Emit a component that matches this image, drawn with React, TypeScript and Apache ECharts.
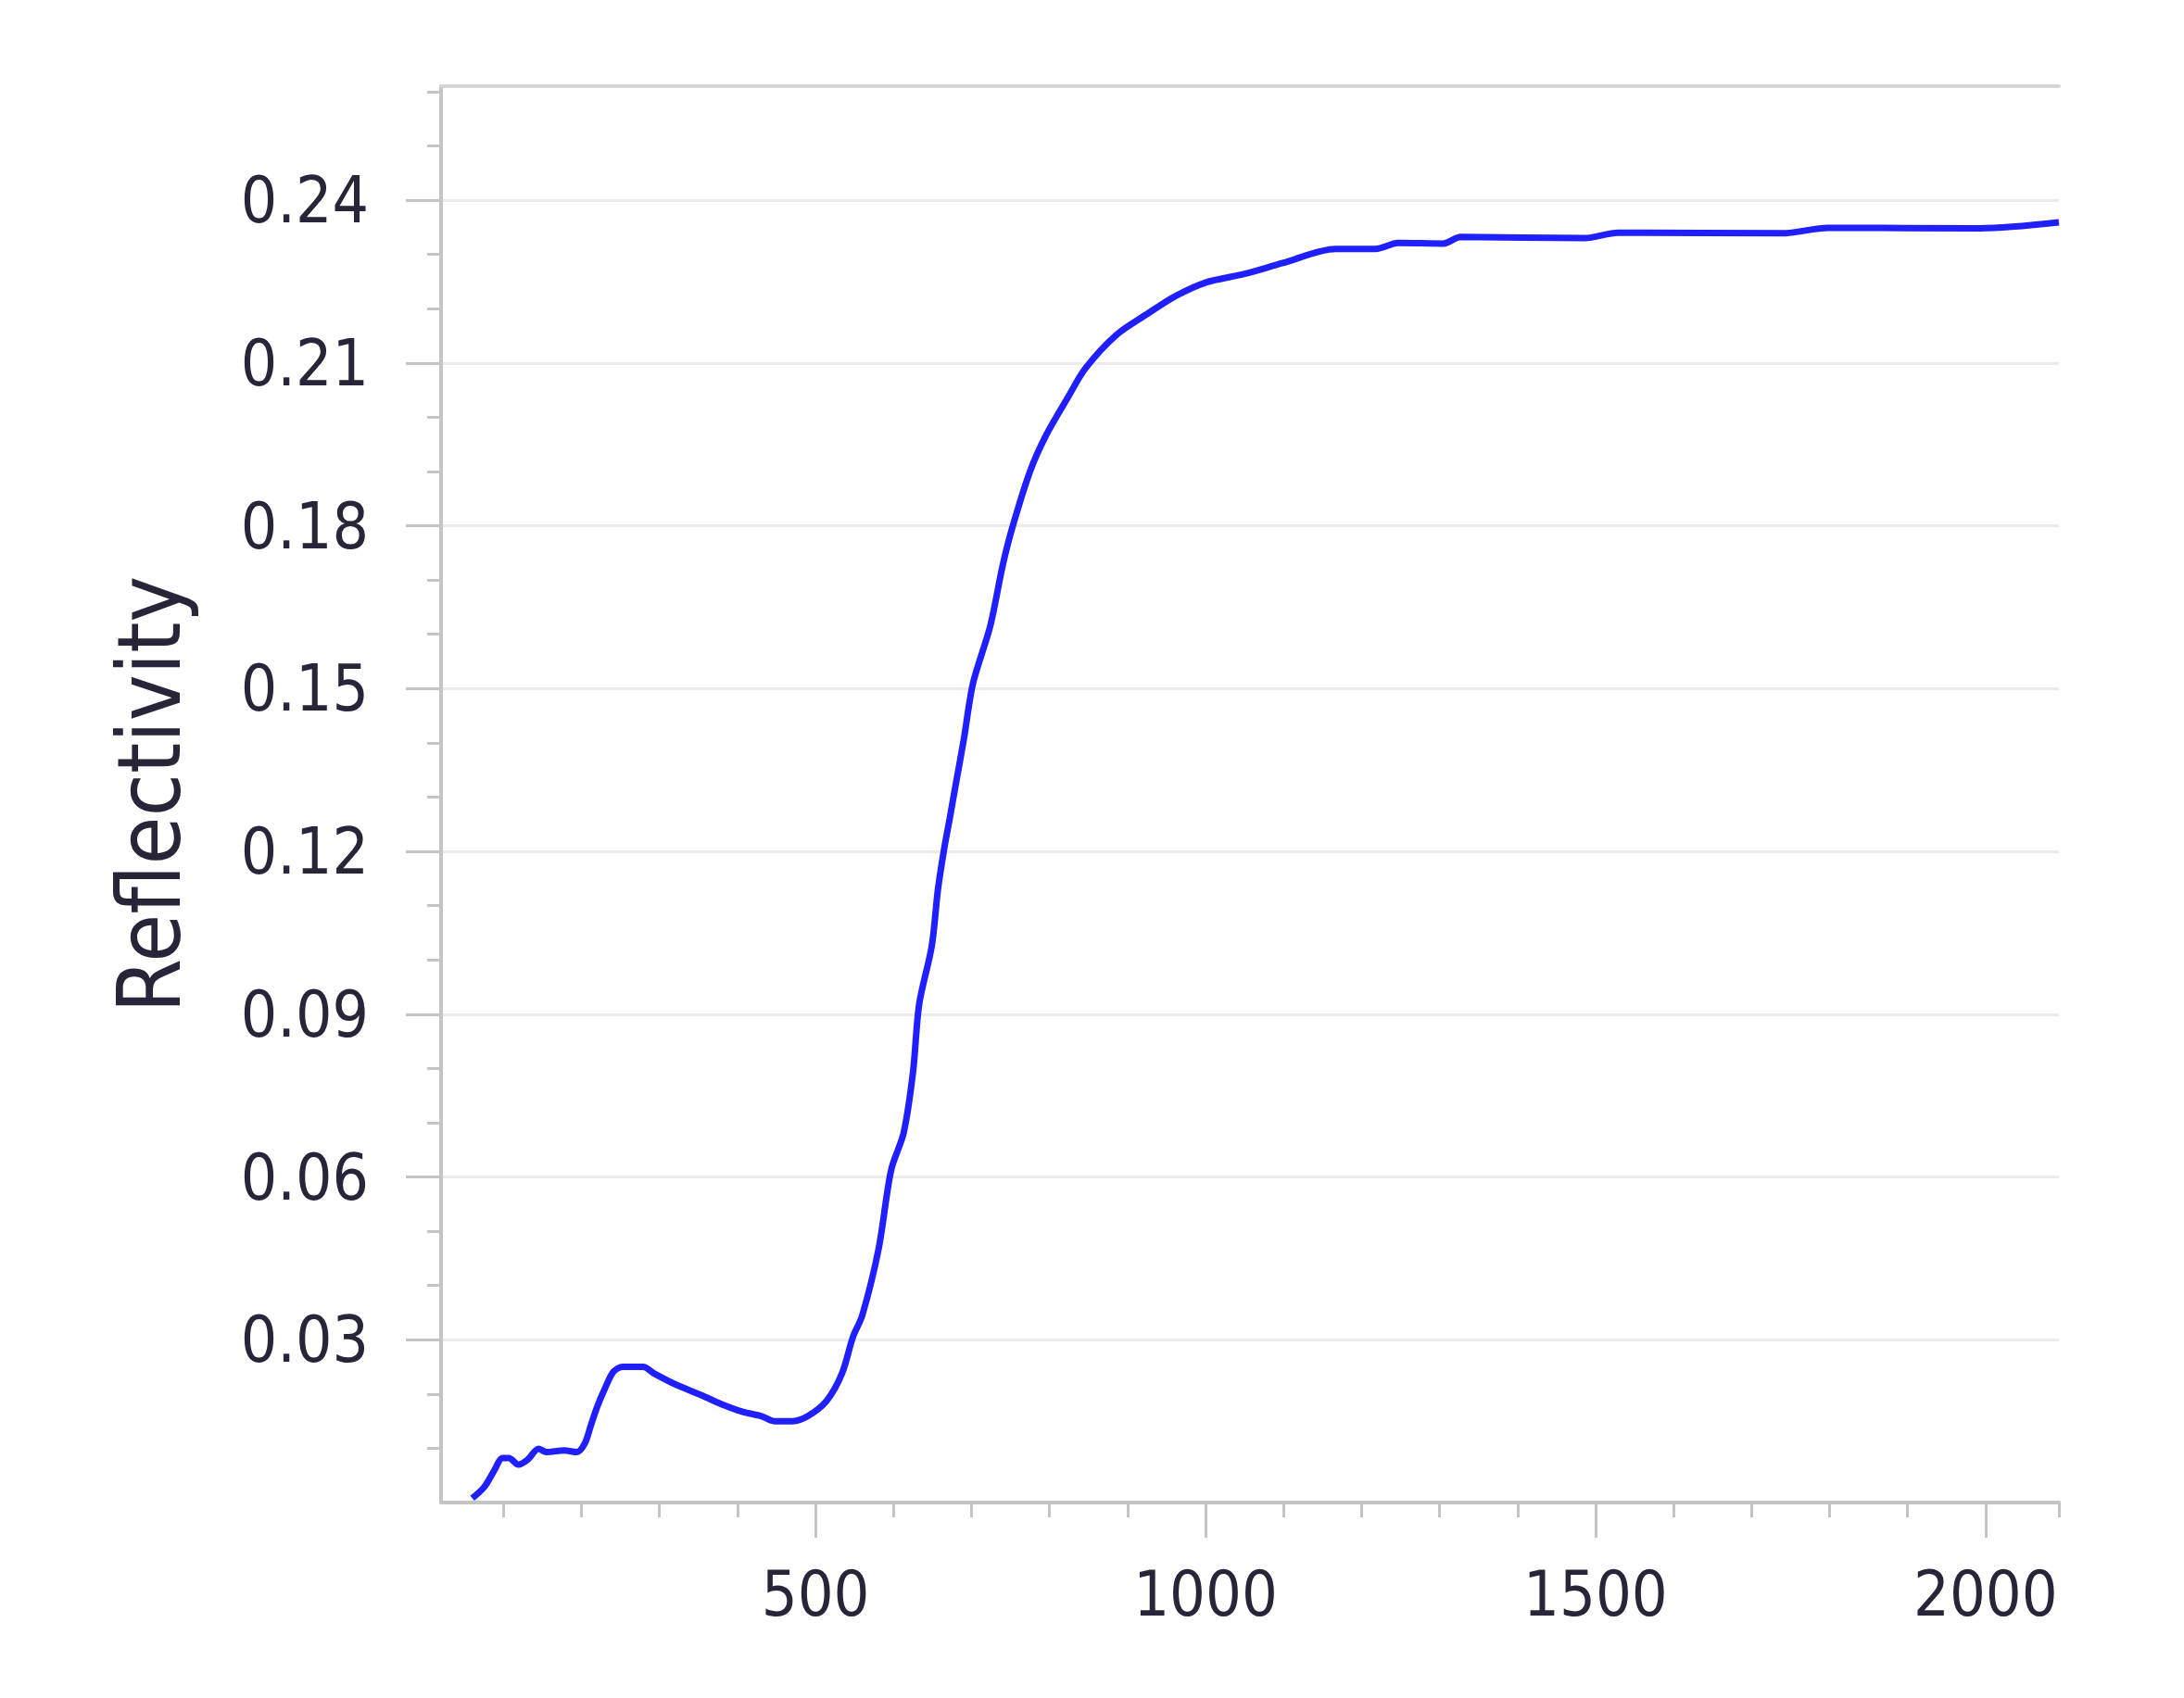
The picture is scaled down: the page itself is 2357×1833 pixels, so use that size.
import React, { useEffect, useRef } from "react";
import * as echarts from "echarts";

// Wavelength (x) and reflectivity (y) samples
const wavelength = [
  60, 75, 87, 99, 107, 119, 131, 145, 155, 178, 194, 204, 212, 220, 230, 241, 253, 279, 293, 320,
  352, 380, 407, 431, 447, 471, 490, 514, 534, 548, 560, 581, 597, 613, 625, 633, 649, 657, 665, 672,
  680, 690, 702, 724, 740, 752, 775, 795, 823, 846, 886, 925, 960, 1000, 1050, 1099, 1167, 1218, 1247, 1305,
  1327, 1486, 1529, 1740, 1798, 1993, 2094,
];
const reflectivity = [
  0.0008, 0.0028, 0.0056, 0.0082, 0.0082, 0.007, 0.0079, 0.0099, 0.0093, 0.0096, 0.0093, 0.0108, 0.0142, 0.0176, 0.021, 0.0241, 0.025, 0.025, 0.0238, 0.0218,
  0.0199, 0.0181, 0.0167, 0.0159, 0.015, 0.015, 0.0159, 0.0187, 0.0238, 0.0305, 0.0345, 0.0468, 0.0613, 0.0681, 0.0793, 0.0919, 0.1025, 0.113, 0.1205, 0.126,
  0.1325, 0.1405, 0.151, 0.1615, 0.1727, 0.1795, 0.19, 0.1965, 0.2035, 0.209, 0.2152, 0.219, 0.2222, 0.2248, 0.2264, 0.2284, 0.231, 0.231, 0.2321, 0.232,
  0.2332, 0.233, 0.234, 0.2339, 0.2349, 0.2348, 0.2359,
];

// Axis extents and tick values
const xRange = [20, 2094];
const yRange = [0, 0.261];
const xMajorTicks = [500, 1000, 1500, 2000];
const xMinorTicks = [100, 200, 300, 400, 600, 700, 800, 900, 1100, 1200, 1300, 1400, 1600, 1700, 1800, 1900, 2094];
const yMajorTicks = [0.03, 0.06, 0.09, 0.12, 0.15, 0.18, 0.21, 0.24];
const yMinorTicks = [0.01, 0.02, 0.04, 0.05, 0.07, 0.08, 0.1, 0.11, 0.13, 0.14, 0.16, 0.17, 0.19, 0.2, 0.22, 0.23, 0.25, 0.26];

const FONT = "'DejaVu Sans Condensed', 'DejaVu Sans', sans-serif";
const TEXT = "#262638";
const AXIS = "#c4c4c4";

export default function App() {
  const ref = useRef<HTMLDivElement>(null);
  useEffect(() => {
    if (!ref.current) return;
    const chart = echarts.init(ref.current, undefined, { renderer: "svg" });
    const points = wavelength.map((x, i) => [x, reflectivity[i]]);
    const baseX = {
      type: "value",
      min: xRange[0],
      max: xRange[1],
      splitLine: { show: false },
    };
    const baseY = {
      type: "value",
      min: yRange[0],
      max: yRange[1],
    };
    chart.setOption({
      animation: false,
      backgroundColor: "#ffffff",
      grid: { left: 476, top: 93, right: 135, bottom: 211, outerBoundsMode: "none" },
      xAxis: [
        {
          ...baseX,
          position: "bottom",
          axisLine: { show: true, onZero: false, lineStyle: { color: AXIS, width: 4 } },
          axisTick: { show: true, customValues: xMajorTicks, length: 38, lineStyle: { color: AXIS, width: 3 } },
          axisLabel: {
            show: true,
            customValues: xMajorTicks,
            margin: 64,
            fontSize: 68,
            fontFamily: FONT,
            color: TEXT,
            formatter: (v: number) => String(v),
          },
        },
        {
          ...baseX,
          position: "bottom",
          axisLine: { show: false, onZero: false },
          axisTick: { show: true, customValues: xMinorTicks, length: 16, lineStyle: { color: AXIS, width: 3 } },
          axisLabel: { show: false },
        },
        {
          ...baseX,
          position: "top",
          axisLine: { show: true, onZero: false, lineStyle: { color: "#d6d6d6", width: 4 } },
          axisTick: { show: false },
          axisLabel: { show: false },
        },
      ],
      yAxis: [
        {
          ...baseY,
          position: "left",
          name: "Reflectivity",
          nameLocation: "middle",
          nameGap: 268,
          nameRotate: 90,
          nameTextStyle: { fontSize: 94, fontFamily: FONT, color: TEXT },
          axisLine: { show: true, onZero: false, lineStyle: { color: AXIS, width: 4 } },
          axisTick: { show: true, customValues: yMajorTicks, length: 38, lineStyle: { color: AXIS, width: 3 } },
          axisLabel: {
            show: true,
            customValues: yMajorTicks,
            margin: 78,
            fontSize: 69,
            fontFamily: FONT,
            color: TEXT,
            formatter: (v: number) => v.toFixed(2),
          },
          splitLine: { show: true, lineStyle: { color: "#ebebeb", width: 3 } },
        },
        {
          ...baseY,
          position: "left",
          axisLine: { show: false, onZero: false },
          axisTick: { show: true, customValues: yMinorTicks, length: 15, lineStyle: { color: AXIS, width: 3 } },
          axisLabel: { show: false },
          splitLine: { show: false },
        },
      ],
      series: [
        {
          type: "line",
          xAxisIndex: 0,
          yAxisIndex: 0,
          data: points,
          showSymbol: false,
          symbol: "none",
          smooth: 0.3,
          lineStyle: { color: "#1f1fff", width: 7 },
          clip: true,
        },
      ],
    });
    return () => chart.dispose();
  }, []);
  return (
    <div
      ref={ref}
      style={{ position: "absolute", left: 0, top: 0, width: 2357, height: 1833, background: "#fff" }}
    />
  );
}
